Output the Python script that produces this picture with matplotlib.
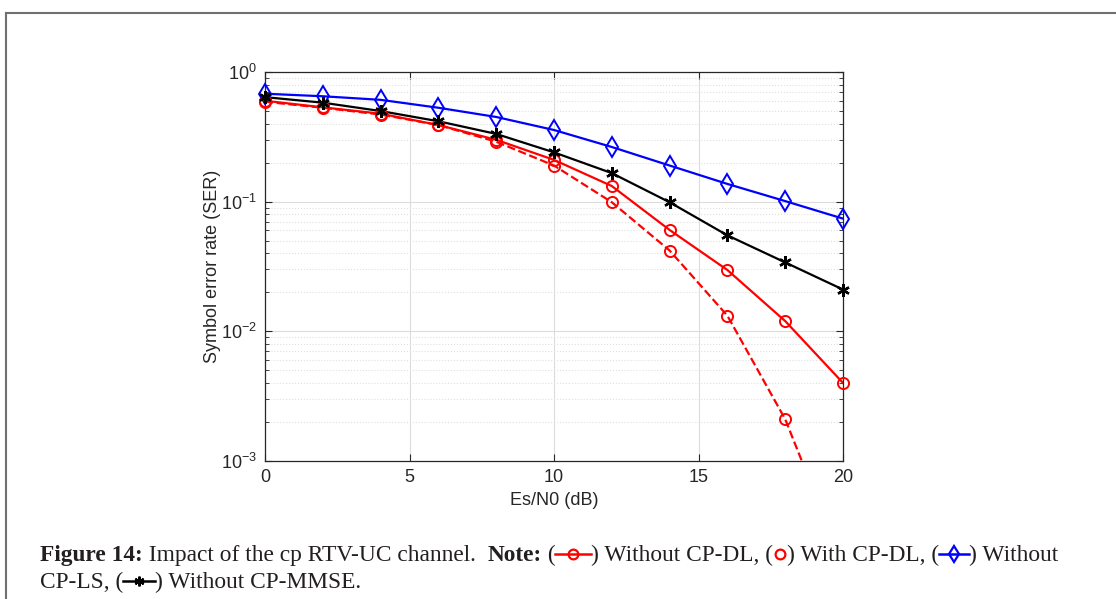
import numpy as np
import matplotlib.pyplot as plt
from matplotlib.lines import Line2D

# SNR 축 (dB)
snr = [0, 2, 4, 6, 8, 10, 12, 14, 16, 18, 20]

# 각 방식의 SER
ser_no_cp_dl = [0.60, 0.534, 0.477, 0.39, 0.30, 0.21, 0.132, 0.0605, 0.0297, 0.012, 0.004]
ser_cp_dl = [0.59, 0.53, 0.47, 0.39, 0.29, 0.19, 0.099, 0.042, 0.0132, 0.0021, 0.00016]
ser_no_cp_ls = [0.68, 0.65, 0.61, 0.53, 0.45, 0.357, 0.264, 0.19, 0.137, 0.101, 0.074]
ser_no_cp_mmse = [0.64, 0.58, 0.50, 0.417, 0.333, 0.24, 0.166, 0.099, 0.055, 0.034, 0.021]

W, H = 1116, 599
fig = plt.figure(figsize=(W / 100, H / 100), dpi=100)
fig.patch.set_facecolor('white')

def px(x0, y0, x1, y1):
    # 픽셀 좌표 (위에서부터) -> figure 비율
    return [x0 / W, 1 - y1 / H, (x1 - x0) / W, (y1 - y0) / H]

ax = fig.add_axes(px(265, 72, 843, 461))
ymin, ymax = 1e-3, 1

asterisk = (6, 2, 0)
curves = [
    (ser_no_cp_dl, '-', 'red', 'o', 8, 1.4),
    (ser_cp_dl, '--', 'red', 'o', 8, 1.4),
    (ser_no_cp_ls, '-', 'blue', 'd', 10, 1.4),
    (ser_no_cp_mmse, '-', 'black', asterisk, 9, 1.7),
]
for ys, ls, c, m, ms, mew in curves:
    # 선은 축 안으로 자르고, 마커는 축 경계에서도 잘리지 않게 따로 그림
    ax.plot(snr, ys, ls, color=c, lw=1.6)
    xs_in = [x for x, y in zip(snr, ys) if ymin <= y <= ymax]
    ys_in = [y for y in ys if ymin <= y <= ymax]
    ax.plot(xs_in, ys_in, ls='none', color=c, marker=m, ms=ms, mfc='none',
            mew=mew, clip_on=False, zorder=3)

ax.set_yscale('log')
ax.set_xlim(0, 20)
ax.set_ylim(ymin, ymax)
ax.set_xticks([0, 5, 10, 15, 20])
ax.set_yticks([1e-3, 1e-2, 1e-1, 1])

# 격자: 주 격자는 실선, 보조 격자는 점선
ax.grid(True, which='major', color='#dcdcdc', lw=0.8)
ax.grid(True, which='minor', axis='y', color='#e0e0e0', lw=0.8, linestyle=':')
ax.set_axisbelow(True)

for s in ax.spines.values():
    s.set_color('#262626')
    s.set_linewidth(0.9)
ax.tick_params(which='both', direction='in', top=True, right=True, color='#262626',
               labelsize=13, labelcolor='#262626', pad=6)
ax.tick_params(which='major', length=5)
ax.tick_params(which='minor', length=3)
for lab in ax.get_xticklabels() + ax.get_yticklabels():
    lab.set_family('Liberation Sans')

ax.set_xlabel('Es/N0 (dB)', fontsize=13, family='Liberation Sans', color='#262626', labelpad=4)
ax.set_ylabel('Symbol error rate (SER)', fontsize=13, family='Liberation Sans',
              color='#262626', labelpad=0)

# 바깥 테두리 (위, 왼쪽)
fig.add_artist(Line2D([6 / W, 6 / W], [0, 1 - 13 / H], transform=fig.transFigure,
                      color='#707070', lw=1.5))
fig.add_artist(Line2D([6 / W, 1], [1 - 13 / H, 1 - 13 / H], transform=fig.transFigure,
                      color='#707070', lw=1.5))

# 캡션 (아이콘을 글자 사이에 끼워 넣음)
renderer = fig.canvas.get_renderer()
serif = 'Liberation Serif'
fs = 16.8

def put_text(x, y, s, bold=False):
    t = fig.text(x / W, 1 - y / H, s, fontsize=fs, family=serif, color='#231f20',
                 fontweight='bold' if bold else 'normal', va='baseline', ha='left')
    return x + t.get_window_extent(renderer).width

def put_icon(x, y, color, marker, width, ls='-', ms=8):
    yc = 1 - (y - 7) / H
    if width > 20:
        fig.add_artist(Line2D([x / W, (x + width) / W], [yc, yc], transform=fig.transFigure,
                              color=color, lw=1.8, ls=ls))
    fig.add_artist(Line2D([(x + width / 2) / W], [yc], transform=fig.transFigure,
                          color=color, marker=marker, ms=ms, mfc='none', mew=1.6))
    return x + width

y1, y2 = 561, 588
x = 40
x = put_text(x, y1, 'Figure 14:', bold=True)
x = put_text(x, y1, ' Impact of the cp RTV-UC channel.  ')
x = put_text(x, y1, 'Note:', bold=True)
x = put_text(x, y1, ' (')
x = put_icon(x, y1, 'red', 'o', 36, ms=7)
x = put_text(x, y1, ') Without CP-DL, (')
x = put_icon(x, y1, 'red', 'o', 14, ms=7)
x = put_text(x, y1, ') With CP-DL, (')
x = put_icon(x, y1, 'blue', 'd', 30, ms=8)
x = put_text(x, y1, ') Without')

x = 40
x = put_text(x, y2, 'CP-LS, (')
x = put_icon(x, y2, 'black', asterisk, 32, ms=7)
x = put_text(x, y2, ') Without CP-MMSE.')

fig.savefig('out.png', dpi=100)
